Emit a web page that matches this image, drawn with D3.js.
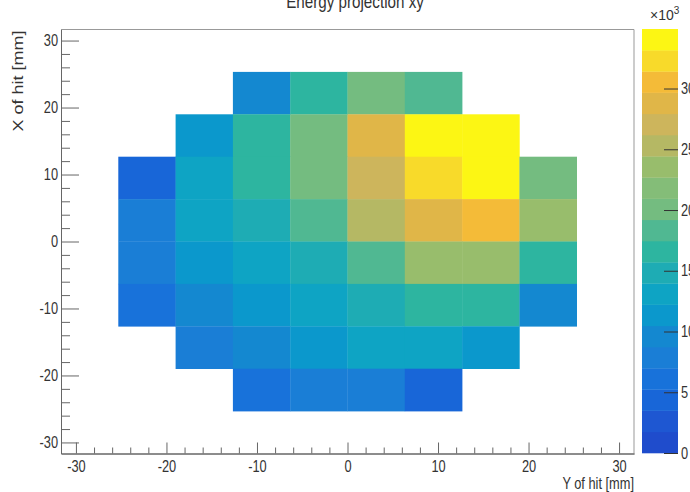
<!DOCTYPE html>
<html>
<head>
<meta charset="utf-8">
<script src="https://cdn.jsdelivr.net/npm/d3@7"></script>
<style>
  html, body { margin: 0; padding: 0; background: #fff; }
  svg { display: block; }
  text { font-family: "Liberation Sans", Arial, sans-serif; fill: #333; }
</style>
</head>
<body>
<svg id="chart" width="690" height="492"></svg>
<script>
// ---- data ----
const title = "Energy projection xy";
const xTitle = "Y of hit [mm]";
const yTitle = "X of hit [mm]";
const binWidth = 6.33;
const axisMin = -31.65, axisMax = 31.65;
const xCenters = [-22.155, -15.825, -9.495, -3.165, 3.165, 9.495, 15.825, 22.155];
const yCenters = [22.155, 15.825, 9.495, 3.165, -3.165, -9.495, -15.825, -22.155];
// energy per cell (rows follow yCenters, columns follow xCenters), null = empty
const row1 = [null, null, 10000, 17000, 20500, 19000, null, null];
const row2 = [null, 11500, 17000, 20500, 29200, 34500, 34500, null];
const row3 = [4500, 13000, 17000, 20500, 27000, 32500, 34500, 20500];
const row4 = [8000, 13000, 15200, 19000, 25500, 28500, 30500, 23000];
const row5 = [8000, 11500, 13000, 14500, 19000, 23000, 23000, 17000];
const row6 = [5500, 9500, 11000, 13000, 15200, 17000, 17000, 9500];
const row7 = [null, 8000, 10000, 12000, 13500, 13500, 11000, null];
const row8 = [null, null, 5500, 8000, 8000, 4500, null, null];
const energyRows = [row1, row2, row3, row4, row5, row6, row7, row8];
const zMax = 34900;
const nLevels = 20;
const xTicks = [-30, -20, -10, 0, 10, 20, 30];
const yTicks = [-30, -20, -10, 0, 10, 20, 30];
const zTicks = [0, 5000, 10000, 15000, 20000, 25000, 30000];
// band colours (bottom to top)
const bandColors = ["#1f4ccc","#1e57d2","#1866d8","#1872da","#1a7ed6","#1488d0","#0b98cc","#0ea4c4",
  "#1eacb4","#2db5a0","#50b892","#74bc80","#84bd78","#98bd6c","#b5b864","#cdb55c",
  "#e0b648","#f4bb38","#f8da2a","#fcf614"];

// ---- layout ----
const svg = d3.select("#chart");
const frame = {left: 61, right: 634, top: 29.5, bottom: 453.5};
const x = d3.scaleLinear().domain([axisMin, axisMax]).range([frame.left, frame.right]);
const y = d3.scaleLinear().domain([axisMin, axisMax]).range([frame.bottom, frame.top]);
const z = d3.scaleLinear().domain([0, zMax]).range([453, 29]);
const bandOf = v => Math.min(nLevels - 1, Math.floor(v / zMax * nLevels));
const NARROW = 0.8;
function narrow(sel) {
  sel.each(function() {
    const len = this.getComputedTextLength();
    if (len > 0) {
      this.setAttribute("textLength", len * NARROW);
      this.setAttribute("lengthAdjust", "spacingAndGlyphs");
    }
  });
}

// cells
const cells = [];
energyRows.forEach((row, i) => row.forEach((v, j) => {
  if (v !== null) cells.push({cx: xCenters[j], cy: yCenters[i], v});
}));
svg.append("g").selectAll("rect").data(cells).join("rect")
  .attr("x", d => x(d.cx - binWidth / 2))
  .attr("y", d => y(d.cy + binWidth / 2))
  .attr("width", d => x(d.cx + binWidth / 2) - x(d.cx - binWidth / 2) + 0.3)
  .attr("height", d => y(d.cy - binWidth / 2) - y(d.cy + binWidth / 2) + 0.3)
  .attr("fill", d => bandColors[bandOf(d.v)]);

// frame (top/right)
svg.append("path")
  .attr("d", `M${frame.left},${frame.top}H${frame.right}V${frame.bottom}`)
  .attr("fill", "none").attr("stroke", "#999").attr("stroke-width", 1);

const fmt = v => String(v);
function styleAxis(g) {
  g.select(".domain").attr("stroke", "#666");
  g.selectAll(".tick line").attr("stroke", "#666");
  g.selectAll("text").attr("fill", "#333").attr("font-size", 16)
    .attr("font-family", '"Liberation Sans", Arial, sans-serif');
}

// x axis
const xMinor = d3.range(-30, 31, 2).filter(v => v % 10 !== 0);
svg.append("g").attr("transform", `translate(0,${frame.bottom})`)
  .call(d3.axisBottom(x).tickValues(xMinor).tickSize(-6).tickFormat("").tickSizeOuter(0))
  .call(styleAxis);
const gx = svg.append("g").attr("transform", `translate(0,${frame.bottom})`)
  .call(d3.axisBottom(x).tickValues(xTicks).tickSize(-11).tickPadding(7).tickFormat(fmt).tickSizeOuter(0))
  .call(styleAxis);
gx.selectAll("text").call(narrow);

// y axis
const yMinor = d3.range(-30, 31, 2).filter(v => v % 10 !== 0);
svg.append("g").attr("transform", `translate(${frame.left},0)`)
  .call(d3.axisLeft(y).tickValues(yMinor).tickSize(-9).tickFormat("").tickSizeOuter(0))
  .call(styleAxis);
const gy = svg.append("g").attr("transform", `translate(${frame.left},0)`)
  .call(d3.axisLeft(y).tickValues(yTicks).tickSize(-18).tickPadding(3).tickFormat(fmt).tickSizeOuter(0))
  .call(styleAxis);
gy.selectAll("text").call(narrow);

// axis titles
svg.append("text").attr("x", frame.right).attr("y", 489)
  .attr("text-anchor", "end").attr("font-size", 16).text(xTitle).call(narrow);
svg.append("text").attr("transform", `translate(23,${frame.top + 1}) scale(0.8,1) rotate(-90)`)
  .attr("text-anchor", "end").attr("font-size", 18).text(yTitle);

// title
svg.append("text").attr("x", 355).attr("y", 8).attr("text-anchor", "middle")
  .attr("font-size", 19).text(title).call(narrow);

// colour bar
const bandEdges = d3.range(nLevels + 1).map(i => i * zMax / nLevels);
svg.append("g").selectAll("rect").data(d3.range(nLevels)).join("rect")
  .attr("x", 642).attr("width", 36)
  .attr("y", i => z(bandEdges[i + 1]))
  .attr("height", i => z(bandEdges[i]) - z(bandEdges[i + 1]) + 0.3)
  .attr("fill", i => bandColors[i]);
const zAxis = svg.append("g").attr("transform", "translate(678,0)")
  .call(d3.axisRight(z).tickValues(zTicks).tickSize(-14).tickPadding(3)
    .tickFormat(v => String(v / 1000)).tickSizeOuter(0));
zAxis.call(styleAxis);
zAxis.select(".domain").remove();
zAxis.selectAll(".tick line").attr("stroke", "#333");
zAxis.selectAll("text").call(narrow);

const mult = svg.append("text").attr("x", 650).attr("y", 20).attr("font-size", 14);
mult.append("tspan").text("×10");
mult.append("tspan").attr("dy", -6).attr("font-size", 10).text("3");
</script>
</body>
</html>
